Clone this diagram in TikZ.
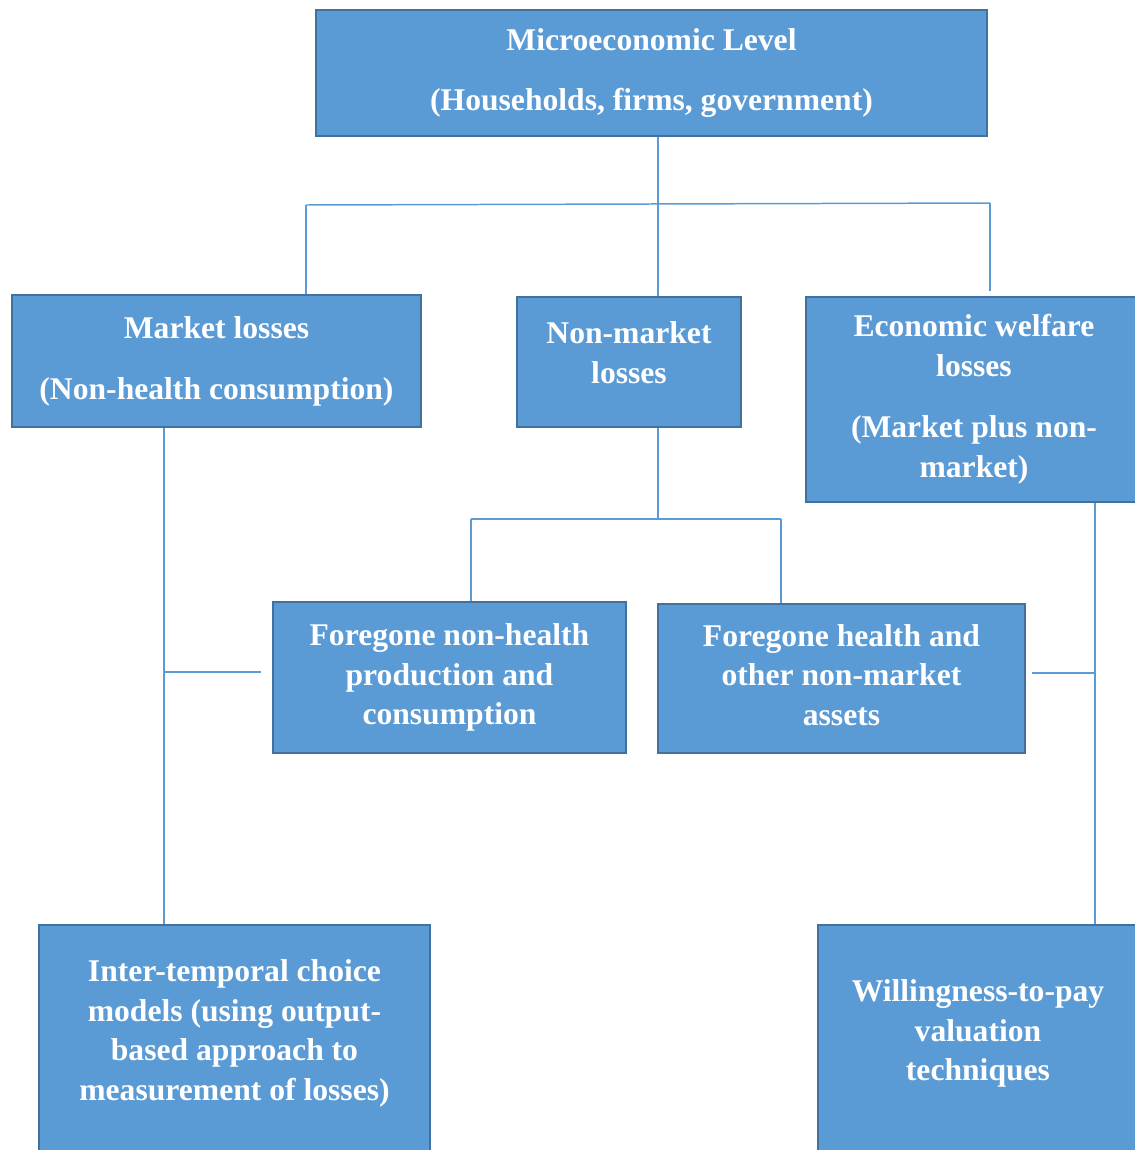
\documentclass[tikz,border=0pt]{standalone}
\usepackage{fontspec}
\setmainfont{Liberation Serif}
\usepackage{tikz}

\definecolor{boxfill}{HTML}{5B9BD5}
\definecolor{boxline}{HTML}{41719C}

\begin{document}
\begin{tikzpicture}[x=0.02cm, y=-0.02cm,
	box/.style={draw=boxline, line width=1.4pt, fill=boxfill, text=white, inner sep=0pt,
		align=center, font=\fontsize{18}{22.7}\selectfont\bfseries},
	link/.style={draw=boxfill, line width=0.85pt}]
	\useasboundingbox (0,0) rectangle (1135,1150);
	\clip (0,0) rectangle (1135,1150);
	
	\node [box, minimum width=13.42cm, minimum height=2.52cm] (1) at (651.5,73) {Microeconomic Level\\[12pt](Households, firms, government)};
	\node [box, minimum width=8.18cm, minimum height=2.64cm] (2) at (216.5,361) {Market losses\\[12pt](Non-health consumption)};
	\node [box, minimum width=4.48cm, minimum height=2.6cm, text depth=11pt] (3) at (629,362) {Non-market\\losses};
	\node [box, minimum width=6.72cm, minimum height=4.1cm] (4) at (974,399.5) {Economic welfare\\losses\\[12pt](Market plus non-\\market)};
	\node [box, minimum width=7.06cm, minimum height=3.02cm] (5) at (449.5,677.5) {Foregone non-health\\production and\\consumption};
	\node [box, minimum width=7.34cm, minimum height=2.98cm, text depth=4pt] (6) at (841.5,678.5) {Foregone health and\\other non-market\\assets};
	\node [box, minimum width=7.82cm, minimum height=5cm] (7) at (234.5,1050) {Inter-temporal choice\\models (using output-\\based approach to\\measurement of losses)\\ \mbox{}};
	\node [box, minimum width=6.4cm, minimum height=5cm] (8) at (978,1050) {Willingness-to-pay\\valuation\\techniques\\ \mbox{}};
	
	% junctions
	\coordinate (t) at (658,204);
	\coordinate (tl) at (306,205);
	\coordinate (tr) at (990,203);
	\coordinate (te) at (990,291);
	\coordinate (m) at (658,519);
	\coordinate (ml) at (471,519);
	\coordinate (mr) at (781,519);
	\coordinate (l) at (164,672);
	\coordinate (ls) at (261,672);
	\coordinate (r) at (1095,673);
	\coordinate (rs) at (1032,673);
	
	\path [link]
	(1.south -| t) edge (t)
	(tl) edge (tr)
	(tl) edge (tl |- 2.north)
	(t) edge (t |- 3.north)
	(tr) edge (te)
	(3.south -| m) edge (m)
	(ml) edge (mr)
	(ml) edge (ml |- 5.north)
	(mr) edge (mr |- 6.north)
	(2.south -| l) edge (l |- 7.north)
	(l) edge (ls)
	(4.south -| r) edge (r |- 8.north)
	(rs) edge (r);
\end{tikzpicture}
\end{document}
